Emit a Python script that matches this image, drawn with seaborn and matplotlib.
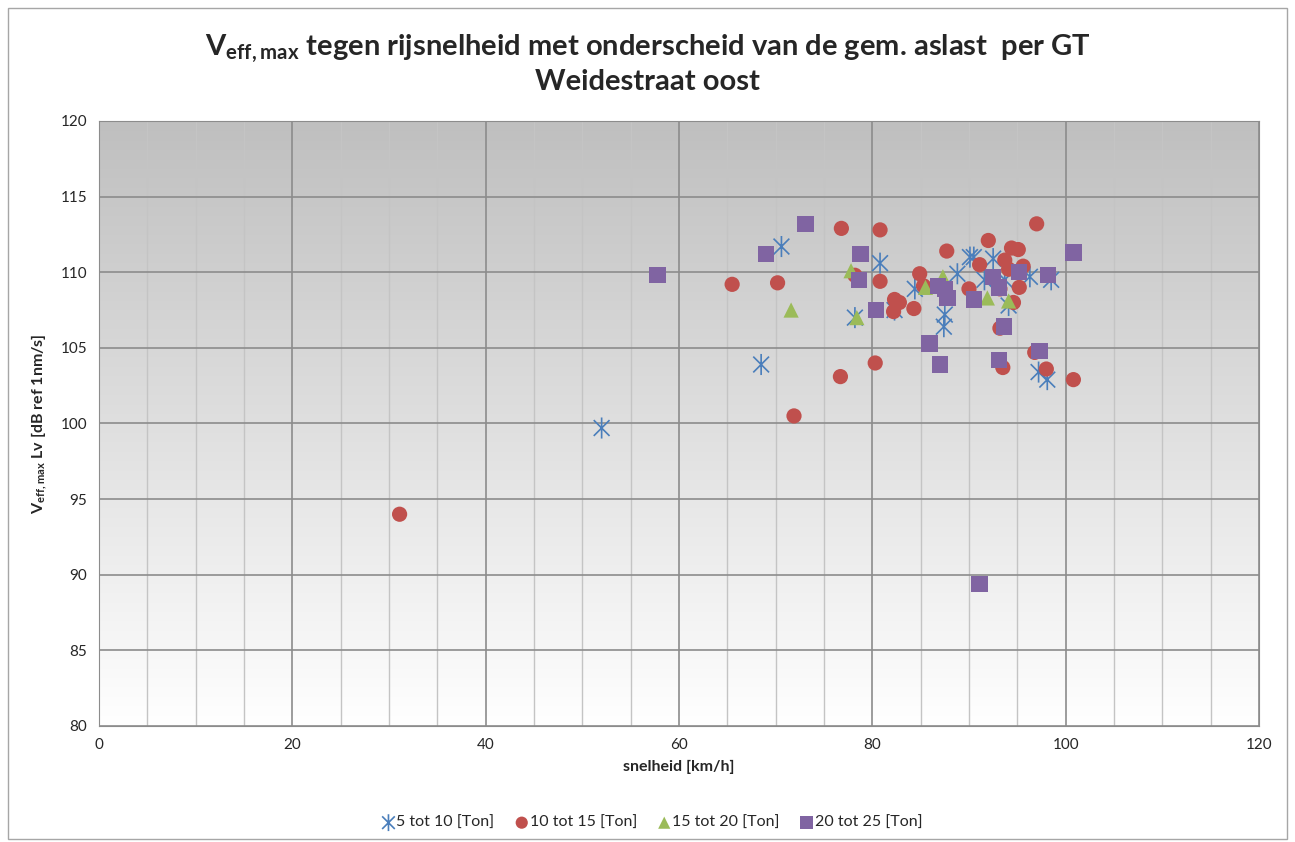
import numpy as np
import pandas as pd
import seaborn as sns
import matplotlib.pyplot as plt
from matplotlib.path import Path
from matplotlib.colors import LinearSegmentedColormap
from matplotlib.patches import Rectangle

# data (snelheid km/h, Veff,max dB)
x_5_10 = [52.0, 68.5, 70.6, 80.8, 84.4, 82.3, 78.2, 87.5, 87.4, 88.8, 90.1, 90.5,
          92.5, 91.6, 93.7, 96.3, 98.5, 94.1, 97.2, 98.1]
y_5_10 = [99.7, 103.9, 111.7, 110.6, 108.9, 107.5, 107.0, 107.2, 106.4, 109.9, 111.0, 111.0,
          110.9, 109.5, 109.5, 109.7, 109.5, 107.8, 103.4, 102.9]

x_10_15 = [31.1, 65.5, 70.2, 71.9, 76.8, 80.8, 78.2, 80.8, 76.7, 80.3, 82.3, 82.8,
           82.2, 84.3, 84.9, 85.3, 87.7, 92.0, 94.4, 95.1, 97.0, 91.1, 93.7, 94.1,
           95.6, 90.0, 93.2, 95.2, 94.6, 93.2, 96.8, 93.5, 98.0, 100.8]
y_10_15 = [94.0, 109.2, 109.3, 100.5, 112.9, 112.8, 109.8, 109.4, 103.1, 104.0, 108.2, 108.0,
           107.4, 107.6, 109.9, 109.1, 111.4, 112.1, 111.6, 111.5, 113.2, 110.5, 110.8, 110.2,
           110.4, 108.9, 108.9, 109.0, 108.0, 106.3, 104.7, 103.7, 103.6, 102.9]

x_15_20 = [71.6, 77.8, 78.4, 85.5, 87.3, 91.9, 94.1]
y_15_20 = [107.5, 110.1, 107.0, 109.0, 109.7, 108.3, 108.1]

x_20_25 = [57.8, 69.0, 73.1, 78.8, 78.6, 80.4, 85.9, 87.0, 86.8, 87.5, 87.8, 90.5,
           92.5, 93.1, 95.2, 98.2, 93.6, 93.1, 97.3, 100.8, 91.1]
y_20_25 = [109.8, 111.2, 113.2, 111.2, 109.5, 107.5, 105.3, 103.9, 109.1, 108.9, 108.3, 108.2,
           109.7, 109.0, 110.0, 109.8, 106.4, 104.2, 104.8, 111.3, 89.4]

labels = ['5 tot 10 [Ton]', '10 tot 15 [Ton]', '15 tot 20 [Ton]', '20 tot 25 [Ton]']
colors = ['#4A7EBB', '#C0504D', '#9BBB59', '#8064A2']

# Excel style star marker: X plus vertical line
d = 0.75
star = Path([(-d, -d), (d, d), (-d, d), (d, -d), (0, -1), (0, 1)],
            [Path.MOVETO, Path.LINETO, Path.MOVETO, Path.LINETO, Path.MOVETO, Path.LINETO])

sns.set_style('white')
plt.rcParams['font.family'] = ['Lato', 'DejaVu Sans']
plt.rcParams['mathtext.fontset'] = 'custom'
plt.rcParams['mathtext.bf'] = 'Lato:bold'
plt.rcParams['mathtext.rm'] = 'Lato'

fig = plt.figure(figsize=(12.95, 8.42), dpi=100)
ax = fig.add_axes([0.0764, 0.1378, 0.8958, 0.7185])

# outer chart border
fig.patches.append(Rectangle((0.006, 0.004), 0.988, 0.986, transform=fig.transFigure,
                             fill=False, edgecolor='#a6a6a6', linewidth=1.0))

# gradient background of the plot area
grad = LinearSegmentedColormap.from_list('g', ['#ffffff', '#bfbfbf'])
ax.imshow(np.linspace(0, 1, 256)[:, None], extent=[0, 120, 80, 120], aspect='auto',
          cmap=grad, origin='lower', zorder=0)

ax.set_xlim(0, 120)
ax.set_ylim(80, 120)
ax.set_xticks(np.arange(0, 121, 20))
ax.set_xticks(np.arange(0, 121, 5), minor=True)
ax.set_yticks(np.arange(80, 121, 5))
ax.grid(which='major', color='#8c8c8c', linewidth=1.2, zorder=1)
ax.grid(which='minor', axis='x', color='#c4c4c4', linewidth=1.0, zorder=1)
ax.set_axisbelow(True)

series = [(x_5_10, y_5_10, star, 230), (x_10_15, y_10_15, 'o', 120),
          (x_15_20, y_15_20, '^', 120), (x_20_25, y_20_25, 's', 140)]
for (xs, ys, m, s), lab, c in zip(series, labels, colors):
    df = pd.DataFrame({'x': xs, 'y': ys})
    if m is star:
        sns.scatterplot(data=df, x='x', y='y', ax=ax, marker=m, s=s, facecolor='none',
                        edgecolor=c, linewidth=1.2, label=lab, zorder=3)
    else:
        sns.scatterplot(data=df, x='x', y='y', ax=ax, marker=m, s=s, color=c,
                        edgecolor='none', label=lab, zorder=3)

for sp in ax.spines.values():
    sp.set_color('#8c8c8c')
ax.tick_params(axis='both', which='major', direction='out', length=5, color='#8c8c8c',
               labelsize=11)
ax.tick_params(axis='x', which='minor', length=0)

ax.set_xlabel('snelheid [km/h]', fontsize=11.5, fontweight='bold', labelpad=6)
ax.set_ylabel(r'V$_{\mathbf{eff,max}}$ Lv [dB ref 1nm/s]', fontsize=11.5, fontweight='bold',
              labelpad=8)

fig.text(0.5, 0.942, r'V$_{\mathbf{eff,max}}$ tegen rijsnelheid met onderscheid van de gem. aslast  per GT',
         ha='center', va='center', fontsize=21, fontweight='bold')
fig.text(0.5, 0.903, 'Weidestraat oost', ha='center', va='center', fontsize=21, fontweight='bold')

ax.legend(loc='center', bbox_to_anchor=(0.477, -0.16), ncol=4, frameon=False, fontsize=11.5,
          handlelength=0.8, handletextpad=0.1, columnspacing=1.3, markerscale=0.8)

fig.savefig('out.png', dpi=100)
